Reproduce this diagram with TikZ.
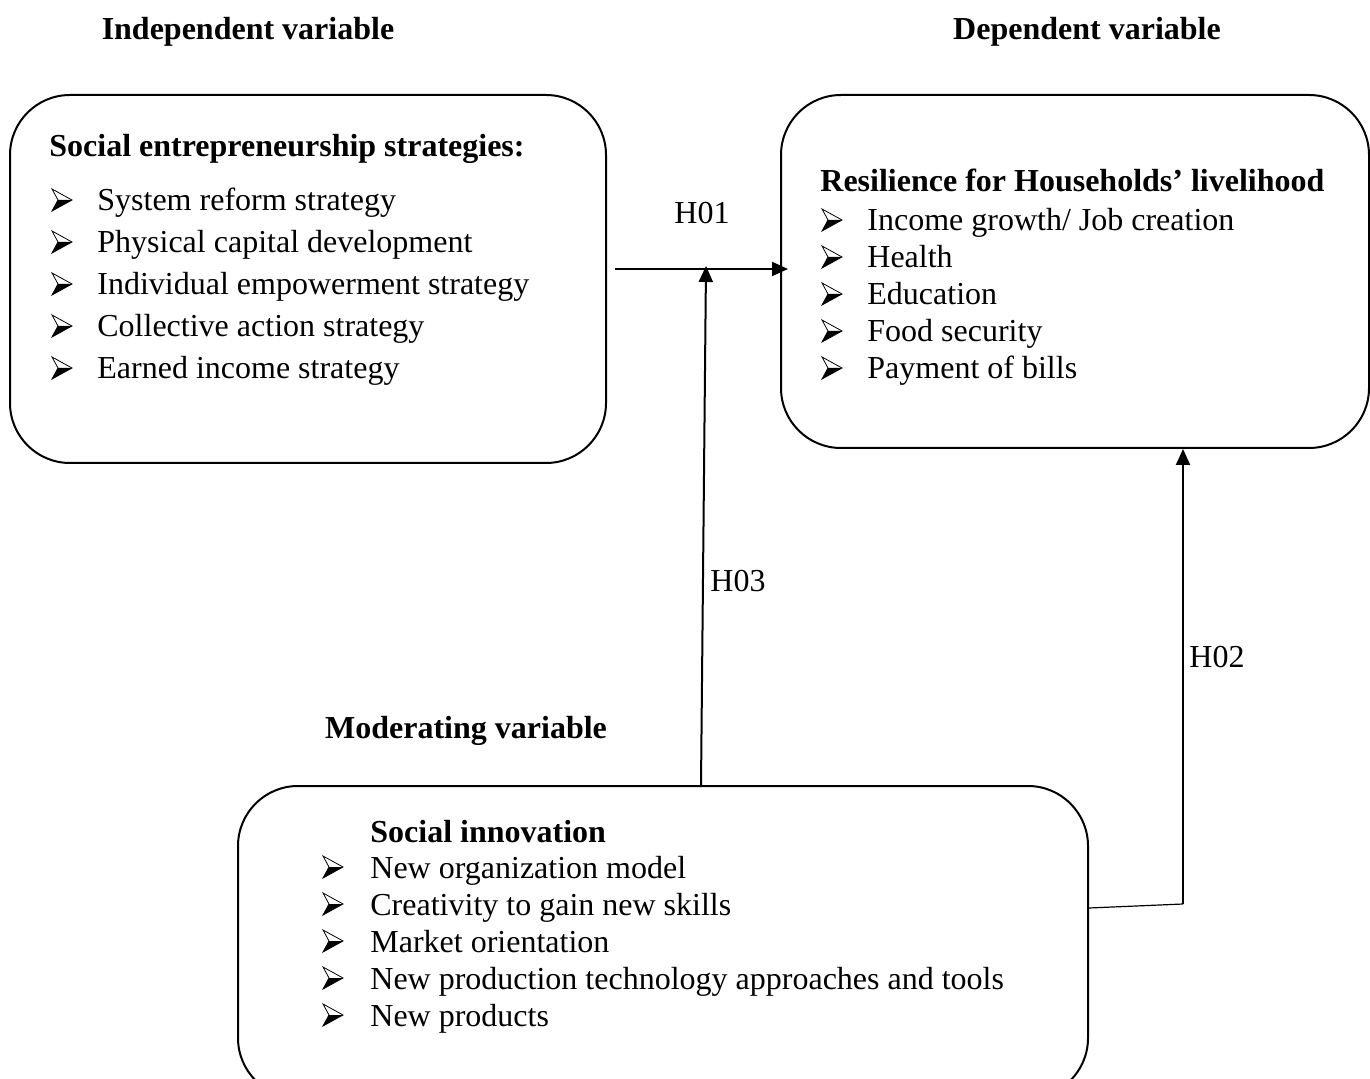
\documentclass[tikz,border=0pt]{standalone}
\usepackage{fontspec}
\setmainfont{Liberation Serif}
\usetikzlibrary{arrows.meta}

\begin{document}
\begin{tikzpicture}[
    x=0.5pt, y=-0.5pt, % one unit is one pixel of the reference, y grows downwards
    >={Triangle[length=8pt, width=7pt]},
    every node/.style={font={\fontsize{16}{19}\selectfont}, inner sep=0pt}, % sets the text of each node
    block/.style={draw, line width=1pt, rounded corners=30pt}, % sets the properties of each box
    heading/.style={font={\fontsize{16}{19}\selectfont\bfseries}, anchor=base},
    entry/.style={anchor=base west},
    link/.style={->, line width=1pt},
    pointer/.pic={ % arrowhead bullet, half outlined and half filled
      \draw[line width=0.4pt, line join=miter] (0,-11) -- (20,0) -- (0,11) -- (6,0) -- cycle;
      \fill (6,0) -- (20,0) -- (0,11) -- cycle;
    },
  ]

  \useasboundingbox (0,0) rectangle (1370,1079);
  \clip (0,0) rectangle (1370,1079);

  % boxes
  \node[block, minimum width=298pt, minimum height=184pt] (strat) at (308,279) {};
  \node[block, minimum width=294pt, minimum height=176.5pt] (resil) at (1075,271.5) {};
  \node[block, minimum width=425pt, minimum height=156pt] (innov) at (663,942) {};

  % variable headings
  \node[heading] (indep) at (248,40) {Independent variable};
  \node[heading] (dep) at (1087,40) {Dependent variable};
  \node[heading] (moder) at (466,738) {Moderating variable};

  % independent variable
  \node[heading, entry] (strattitle) at (49,157) {Social entrepreneurship strategies:};
  \foreach \txt [count=\i] in {System reform strategy, Physical capital development,
      Individual empowerment strategy, Collective action strategy, Earned income strategy}
  {
    \pic at (52,{200+42*(\i-1)}) {pointer};
    \node[entry] (strat\i) at (97,{211+42*(\i-1)}) {\txt};
  }

  % dependent variable
  \node[heading, entry] (resiltitle) at (820,192) {Resilience for Households’ livelihood};
  \foreach \txt [count=\i] in {Income growth/ Job creation, Health, Education,
      Food security, Payment of bills}
  {
    \pic at (822,{220+37*(\i-1)}) {pointer};
    \node[entry] (resil\i) at (867,{231+37*(\i-1)}) {\txt};
  }

  % moderating variable
  \node[heading, entry] (innovtitle) at (370,842) {Social innovation};
  \foreach \txt [count=\i] in {New organization model, Creativity to gain new skills,
      Market orientation, New production technology approaches and tools, New products}
  {
    \pic at (323,{867+37*(\i-1)}) {pointer};
    \node[entry] (innov\i) at (370,{878+37*(\i-1)}) {\txt};
  }

  % hypotheses
  \coordinate (h1start) at (615,269);
  \coordinate (h3top) at (706,266);
  \coordinate (h3x) at (701,0);
  \coordinate (h2foot) at (1089,908);
  \coordinate (h2bend) at (1183,904);

  \draw[link] (h1start) -- ([xshift=4pt]resil.west |- h1start);
  \draw[link] (h3x |- innov.north) -- (h3top);
  \draw[line width=0.6pt] (h2foot) -- (h2bend);
  \draw[link] (h2bend) -- (h2bend |- resil.south);

  \node[anchor=base] (h01) at (702,224) {H01};
  \node[entry] (h03) at (710,591) {H03};
  \node[entry] (h02) at (1189,667) {H02};

\end{tikzpicture}
\end{document}
